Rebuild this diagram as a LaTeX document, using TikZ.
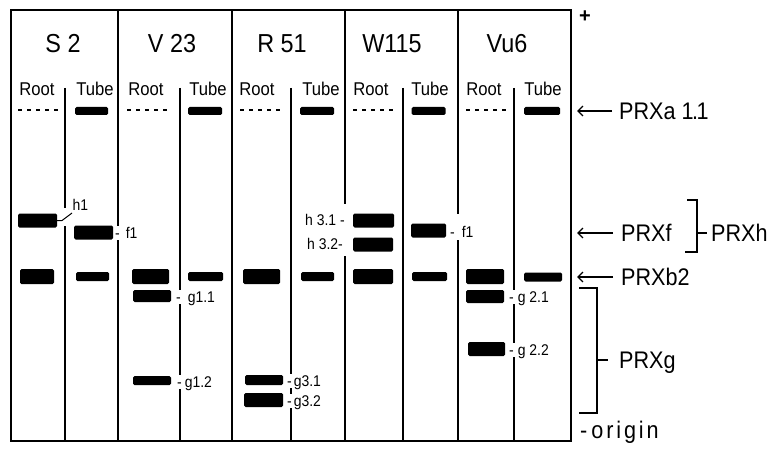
\documentclass[tikz,border=0pt]{standalone}
\usepackage{fontspec}
\setmainfont{Liberation Sans}
\newfontfamily\gelsans[FakeStretch=0.9]{Liberation Sans}
\usetikzlibrary{arrows.meta}
\newcommand\gelband[5]{\node[bandbox, minimum width=#4pt, minimum height=#5pt] (#1) at (#2,#3) {};}
\begin{document}
\begin{tikzpicture}[x=1pt,y=-1pt,
  frame/.style={line width=2pt},
  divider/.style={line width=1.7pt},
  lane/.style={line width=1.3pt},
  dashline/.style={line width=1.2pt, dash pattern=on 4pt off 5pt},
  bandbox/.style={fill=black, draw=none, rounded corners=1.5pt, inner sep=0pt, outer sep=0pt},
  head/.style={font=\gelsans\fontsize{26}{26}\selectfont, inner sep=0pt, text height=18.6pt, text depth=0pt},
  sub/.style={font=\gelsans\fontsize{18.5}{18.5}\selectfont, inner sep=0pt, text height=13.2pt, text depth=0pt},
  lbl/.style={font=\gelsans\fontsize{15.5}{15.5}\selectfont, fill=white, inner sep=1.5pt, text height=11pt, text depth=0pt, anchor=west},
  rlab/.style={font=\gelsans\fontsize{24}{24}\selectfont, inner sep=0pt, text height=17.2pt, text depth=0pt, anchor=west},
  arr/.style={line width=1.3pt, -{Straight Barb[length=5pt,width=10pt]}},
  brk/.style={line width=1.1pt}]
\useasboundingbox (0,0) rectangle (778,449);
% frame and dividers
\draw[frame] (11,10) rectangle (571,441);
\draw[divider] (118,10) -- (118,441);
\draw[divider] (232,10) -- (232,441);
\draw[divider] (345,10) -- (345,204) (345,256) -- (345,441);
\draw[divider] (458,10) -- (458,214) (458,240) -- (458,441);
% lane lines
\draw[lane] (65,88) -- (65,208) (65,226) -- (65,441);
\draw[lane] (180,88) -- (180,441);
\draw[lane] (291,88) -- (291,441);
\draw[lane] (403,88) -- (403,441);
\draw[lane] (514,88) -- (514,441);
% headings
\node[head] (tS2) at (63,43) {S 2};
\node[head] (tV23) at (172,43) {V 23};
\node[head] (tR51) at (282,43) {R 51};
\node[head] (tW115) at (392,43) {W115};
\node[head] (tVu6) at (507,43) {Vu6};
% root / tube
\foreach \r/\t [count=\i] in {37/95,146/208,257/321,371/430,484/543}{
  \node[sub] (root\i) at (\r,89) {Root};
  \node[sub] (tube\i) at (\t,89) {Tube};
}
% dashed root lines
\foreach \a/\b in {18/60,127/168,240/283,353/395,466/506}{
  \draw[dashline] (\a,110) -- (\b,110);
}
% row a (tube)
\gelband{a1}{91.5}{111}{33}{8}
\gelband{a2}{205}{111}{34}{8}
\gelband{a3}{317}{111}{34}{8}
\gelband{a4}{428.5}{111}{34}{8}
\gelband{a5}{542}{111}{36}{8}
% row f / h
\gelband{s2h}{37.5}{220.5}{39}{14}
\gelband{s2f}{93.5}{232.5}{39}{14}
\gelband{w31}{373.5}{220.5}{41}{14}
\gelband{w32}{373}{244.5}{40}{14}
\gelband{wf}{428.5}{230.5}{35}{14}
% row b2
\gelband{b1}{37}{276.5}{34}{15}
\gelband{b2}{150.5}{276.5}{37}{15}
\gelband{b3}{261.5}{276.5}{37}{15}
\gelband{b4}{373}{276.5}{40}{15}
\gelband{b5}{485}{276.5}{38}{15}
\gelband{bt1}{92.5}{276.5}{33}{9}
\gelband{bt2}{205.5}{276.5}{35}{9}
\gelband{bt3}{317.5}{276.5}{33}{9}
\gelband{bt4}{429.5}{276.5}{35}{9}
\gelband{bt5}{543}{277}{38}{9}
% g bands
\gelband{g11}{152}{296}{38}{12}
\gelband{g12}{152}{380.5}{38}{9}
\gelband{g31}{264}{380}{38}{10}
\gelband{g32}{263.5}{400}{39}{14}
\gelband{g21}{485}{296.5}{38}{13}
\gelband{g22}{486.5}{349}{37}{14}
% small labels
\node[lbl, fill=none, anchor=center] (lh1) at (80.5,205) {h1};
\draw[line width=1pt] (s2h.east) -- ++(5,0) -- (72,213);
\node[lbl] (lf1a) at (113.5,233) {-\kern6pt f1};
\node[lbl] (lg11) at (174.5,297) {-\kern7pt g1.1};
\node[lbl] (lg12) at (175.5,382) {-\kern3pt g1.2};
\node[lbl] (lg31) at (285.5,381) {-\kern2pt g3.1};
\node[lbl] (lg32) at (285.5,401) {-\kern2pt g3.2};
\node[lbl] (lh31) at (303.5,220) {h 3.1 -};
\node[lbl] (lh32) at (305.5,244) {h 3.2-};
\node[lbl] (lf1b) at (448.5,232) {-\kern7pt f1};
\node[lbl] (lg21) at (507.5,297) {-\kern4pt g 2.1};
\node[lbl] (lg22) at (507.5,350) {-\kern4pt g 2.2};
% right side
\node[font=\bfseries\fontsize{20}{20}\selectfont, inner sep=0pt] (plus) at (585,17) {+};
\coordinate (ta) at (577,111);
\coordinate (tf) at (577,233);
\coordinate (tb) at (577,277);
\node[rlab] (pa) at (619,111) {PRXa 1\kern-1.5pt.\kern-1.5pt1};
\node[rlab] (pf) at (621,233) {PRXf};
\node[rlab] (pb) at (621,277) {PRXb2};
\draw[arr, shorten <=7pt] (pa.west) -- (ta);
\draw[arr, shorten <=8pt] (pf.west) -- (tf);
\draw[arr, shorten <=8pt] (pb.west) -- (tb);
\node[rlab] (ph) at (711,233) {PRXh};
\draw[brk] (687,200) -- (697,200) -- (697,252) -- (685,252);
\draw[brk, shorten >=4pt] (697,233) -- (ph.west);
\node[rlab] (pg) at (619,360) {PRXg};
\draw[brk] (579,288) -- (597,288) -- (597,413) -- (579,413);
\draw[brk, shorten >=11pt] (597,360) -- (pg.west);
\node[rlab, text height=11pt, font=\gelsans\fontsize{24}{24}\selectfont\addfontfeature{LetterSpace=12}] (po) at (580,433) {-\kern4pt origin};
\end{tikzpicture}
\end{document}
